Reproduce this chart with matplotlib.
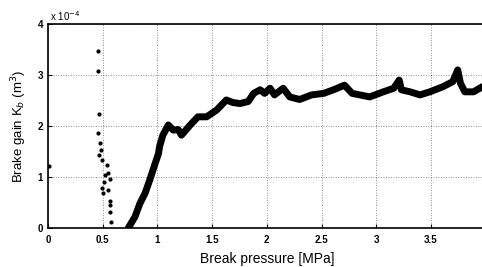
import matplotlib
matplotlib.use("Agg")
import matplotlib.pyplot as plt

# Main curve (units of 1e-4 m^3)
curve_x = [0.734, 0.795, 0.84, 0.887, 0.93, 0.98, 1.01, 1.02, 1.05, 1.10, 1.145, 1.19, 1.22,
           1.30, 1.37, 1.45, 1.54, 1.63, 1.69, 1.755, 1.83, 1.88, 1.94, 1.98, 2.03, 2.07,
           2.15, 2.21, 2.30, 2.41, 2.52, 2.61, 2.71, 2.78, 2.85, 2.94, 3.065, 3.16, 3.21,
           3.23, 3.31, 3.40, 3.49, 3.61, 3.70, 3.745, 3.77, 3.81, 3.89, 3.97]
curve_y = [0.00, 0.22, 0.48, 0.68, 0.94, 1.27, 1.46, 1.60, 1.82, 2.02, 1.92, 1.93, 1.82,
           2.02, 2.18, 2.18, 2.31, 2.51, 2.46, 2.44, 2.48, 2.64, 2.71, 2.64, 2.74, 2.61,
           2.74, 2.57, 2.52, 2.61, 2.64, 2.71, 2.80, 2.64, 2.61, 2.57, 2.67, 2.74, 2.90,
           2.71, 2.67, 2.61, 2.67, 2.77, 2.87, 3.10, 2.84, 2.67, 2.67, 2.77]

# Scattered points near low pressure
scat_x = [0.01, 0.46, 0.46, 0.47, 0.46, 0.475, 0.48, 0.47, 0.49, 0.54, 0.55, 0.52, 0.51, 0.57,
          0.49, 0.505, 0.55, 0.57, 0.566, 0.57, 0.58]
scat_y = [1.22, 3.48, 3.08, 2.24, 1.87, 1.66, 1.53, 1.43, 1.33, 1.24, 1.07, 1.04, 0.91, 0.97,
          0.78, 0.68, 0.75, 0.52, 0.45, 0.32, 0.12]

xticks = [0, 0.5, 1, 1.5, 2, 2.5, 3, 3.5]
xtick_labels = ["0", "0.5", "1", "1.5", "2", "2.5", "3", "3.5"]
yticks = [0, 1, 2, 3, 4]

plt.rcParams['font.family'] = ['Liberation Sans', 'DejaVu Sans']

fig = plt.figure(figsize=(4.82, 2.67), dpi=100)
ax = fig.add_axes([48/482, 1-228/267, 437.6/482, (228-24)/267])

ax.plot(curve_x, curve_y, color='black', lw=5, solid_capstyle='round', solid_joinstyle='round')
ax.plot(scat_x, scat_y, 'o', color='black', ms=3, mew=0)

ax.set_xlim(0, 4)
ax.set_ylim(0, 4)
ax.set_xticks(xticks)
ax.set_xticklabels(xtick_labels)
ax.set_yticks(yticks)
ax.tick_params(direction='in', length=3, labelsize=7, width=0.8)
ax.tick_params(axis='x', pad=5)
for lab in ax.get_xticklabels() + ax.get_yticklabels():
    lab.set_fontweight('bold')
ax.grid(True, linestyle=(0, (1, 2)), color='black', lw=0.6, alpha=0.6)
for s in ax.spines.values():
    s.set_linewidth(1.2)

ax.set_xlabel("Break pressure [MPa]", fontsize=10, labelpad=5)
ax.set_ylabel(r"Brake gain K$_b$ (m$^3$)", fontsize=9.5, labelpad=6)
fig.text(50/482, 1-16/267, r"x 10$^{-4}$", fontsize=7, va='center', ha='left')

fig.savefig("out.png", dpi=100)
